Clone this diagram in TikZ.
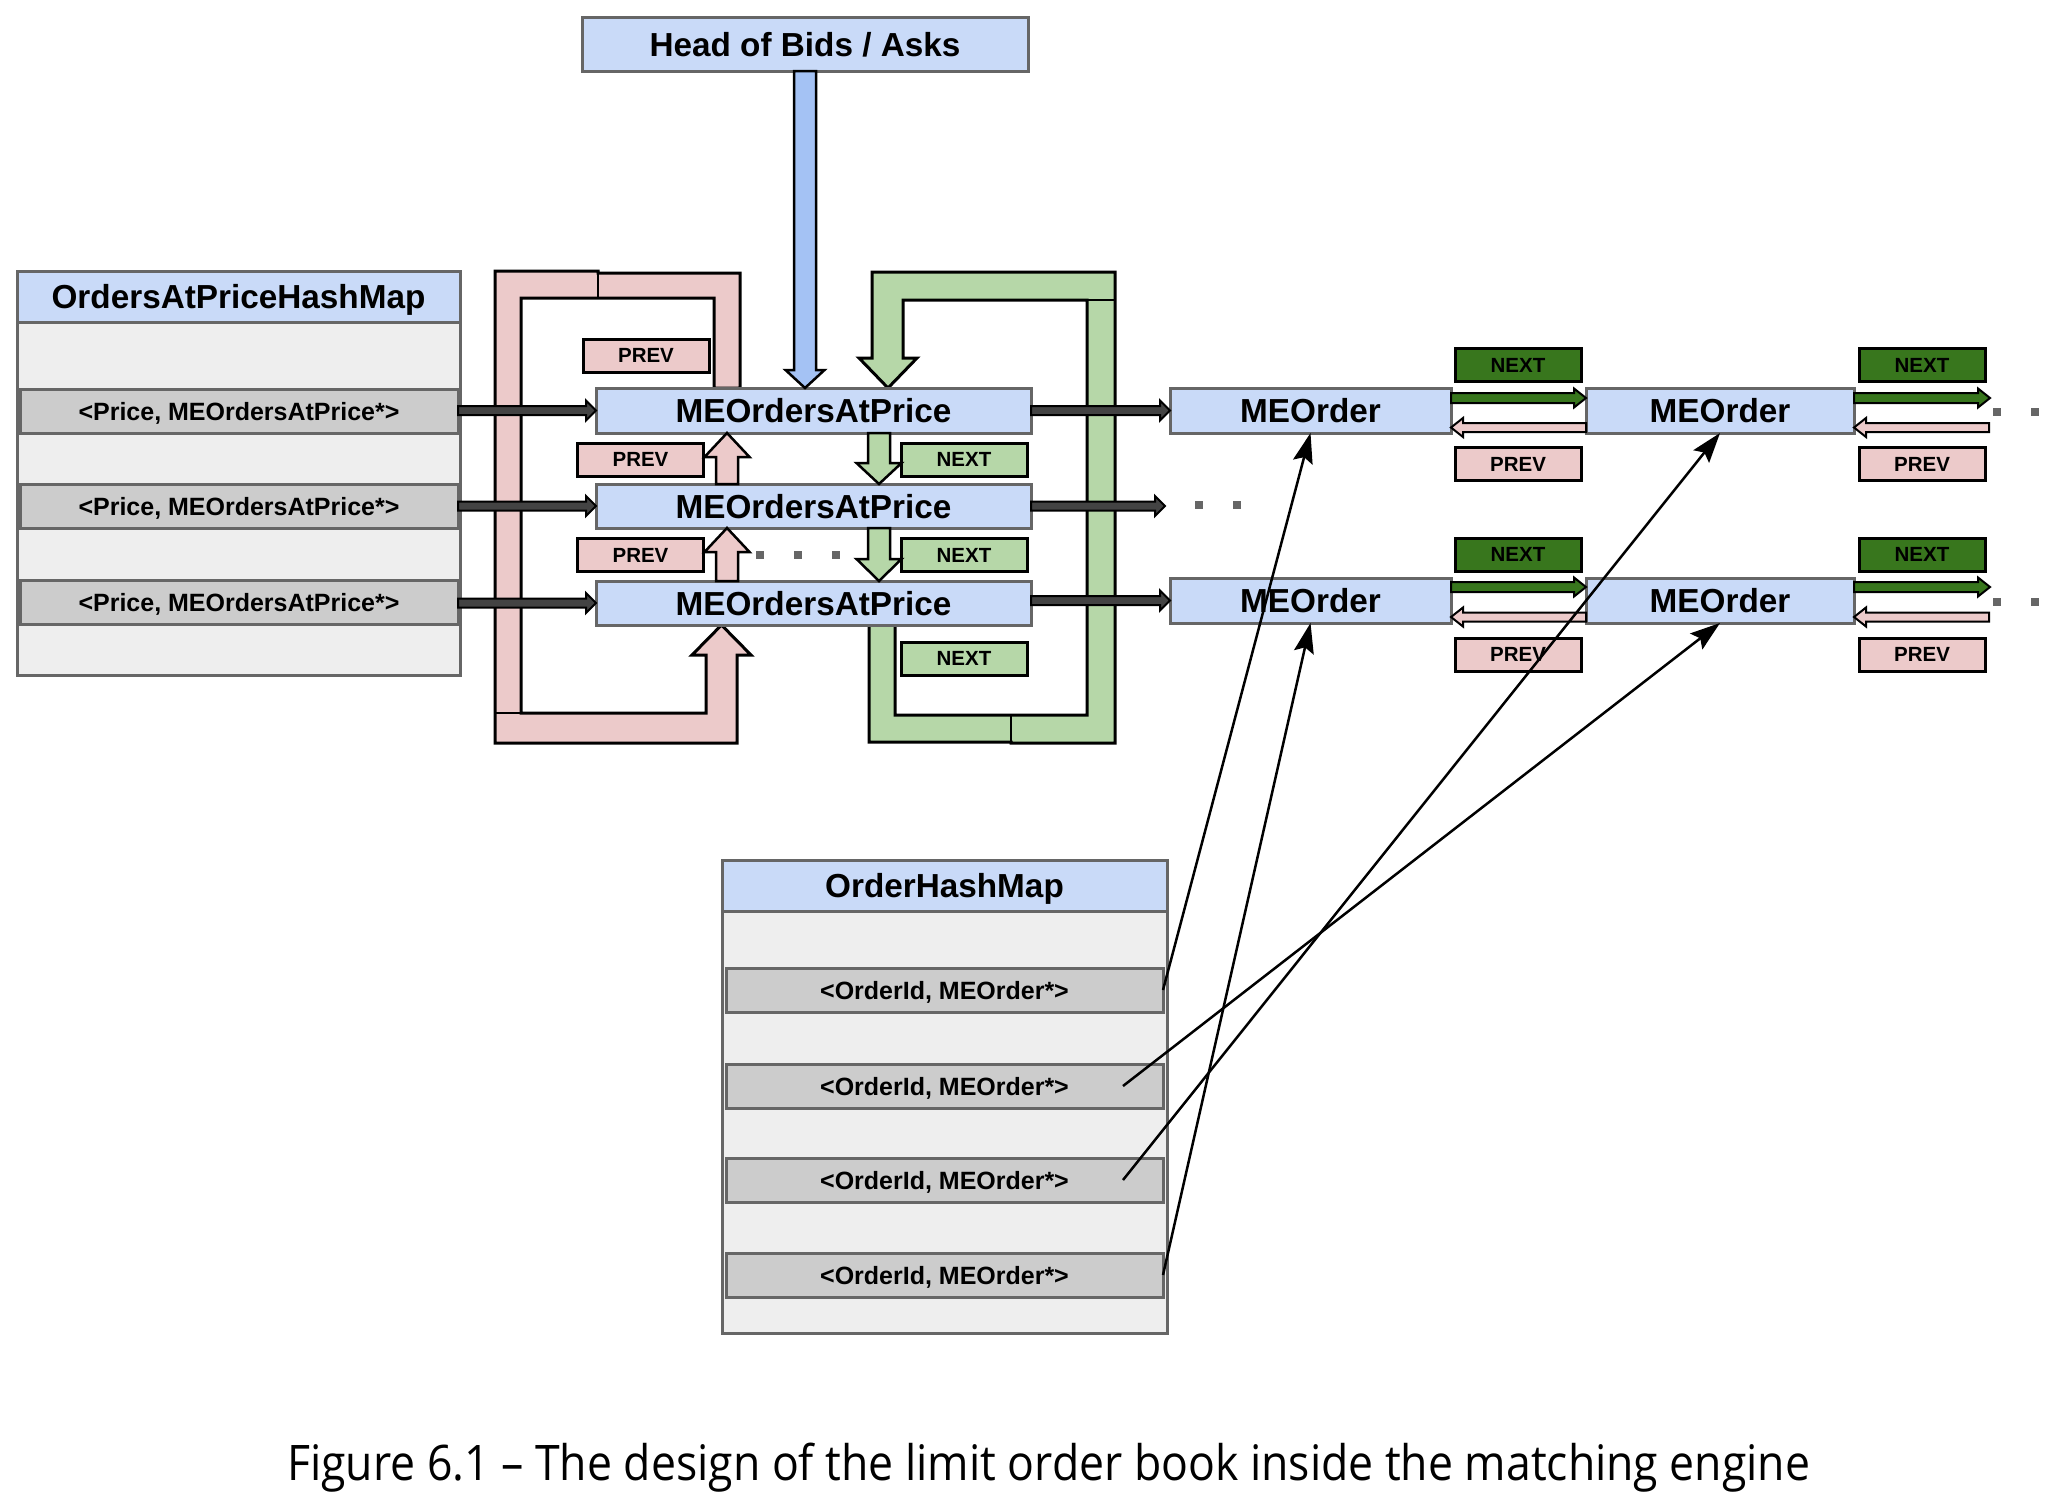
\documentclass[tikz,border=0pt]{standalone}
\usepackage{fontspec}
\setmainfont{Liberation Sans}
\newfontfamily\capfont{Open Sans}
\usetikzlibrary{calc,arrows.meta}
\definecolor{bluefill}{HTML}{C9DAF8}
\definecolor{bluearrow}{HTML}{A4C2F4}
\definecolor{edgegray}{HTML}{666666}
\definecolor{rowgray}{HTML}{CCCCCC}
\definecolor{tablegray}{HTML}{EEEEEE}
\definecolor{pinkfill}{HTML}{ECCACA}
\definecolor{greenfill}{HTML}{B6D7A8}
\definecolor{darkgreen}{HTML}{38761D}
\definecolor{shaftgray}{HTML}{434343}
\definecolor{dotgray}{HTML}{666666}
\tikzset{
  box/.style={rectangle, inner sep=0pt, outer sep=0pt, line width=3pt, text depth=0pt},
  bluebox/.style={box, draw=edgegray, fill=bluefill, text height=24pt, font=\bfseries\fontsize{33.3}{38}\selectfont},
  tablebg/.style={box, draw=edgegray, fill=tablegray},
  rowbox/.style={box, draw=edgegray, fill=rowgray, minimum height=44pt, text height=18pt, font=\bfseries\fontsize{25}{30}\selectfont},
  lbl/.style={box, draw=black, minimum width=126pt, minimum height=33pt, text height=14.8pt, font=\bfseries\fontsize{20.5}{24}\selectfont},
  prevlbl/.style={lbl, fill=pinkfill},
  nextlbl/.style={lbl, fill=greenfill},
  nextdark/.style={lbl, fill=darkgreen},
  blockblack/.style={fill=shaftgray, draw=black, line width=2pt, line join=miter},
  blockgreen/.style={fill=darkgreen, draw=black, line width=2pt, line join=miter},
  blockpink/.style={fill=pinkfill, draw=black, line width=2pt, line join=miter},
  minipink/.style={fill=pinkfill, draw=black, line width=2.5pt, line join=miter},
  minigreen/.style={fill=greenfill, draw=black, line width=2.5pt, line join=miter},
  miniblue/.style={fill=bluearrow, draw=black, line width=2.5pt, line join=miter},
  looppink/.style={fill=pinkfill, draw=black, line width=3pt, line join=miter},
  loopgreen/.style={fill=greenfill, draw=black, line width=3pt, line join=miter},
  seam/.style={draw=black, line width=2.5pt},
  ptr/.style={draw=black, line width=2.5pt, -{Stealth[length=30pt,width=20pt,inset=5pt]}},
  dotsq/.style={fill=dotgray, draw=none, minimum size=8pt, inner sep=0pt, rectangle}
}
% horizontal block arrow: style, tail, tip, half shaft, half head, signed head length
\newcommand{\harr}[6]{\filldraw[#1] let \p1=(#2), \p2=(#3) in
  (\x1,{\y2+#4}) -- ({\x2-(#6)},{\y2+#4}) -- ({\x2-(#6)},{\y2+#5}) -- (\x2,\y2)
  -- ({\x2-(#6)},{\y2-#5}) -- ({\x2-(#6)},{\y2-#4}) -- (\x1,{\y2-#4}) -- cycle;}
% vertical block arrow: style, tail, tip, half shaft, half head, signed head length (positive = up)
\newcommand{\varr}[6]{\filldraw[#1] let \p1=(#2), \p2=(#3) in
  ({\x2+#4},\y1) -- ({\x2+#4},{\y2-(#6)}) -- ({\x2+#5},{\y2-(#6)}) -- (\x2,\y2)
  -- ({\x2-#5},{\y2-(#6)}) -- ({\x2-#4},{\y2-(#6)}) -- ({\x2-#4},\y1) -- cycle;}
\begin{document}
\begin{tikzpicture}[x=1pt,y=-1pt]
\useasboundingbox[fill=white] (0,0) rectangle (2048,1492);

% ---------- OrdersAtPriceHashMap ----------
\node[tablebg, minimum width=443pt, minimum height=404pt] (oaphm) at (238.5,473) {};
\node[bluebox, minimum width=443pt, minimum height=51pt] (oaphmhead) at (238.5,296.5) {OrdersAtPriceHashMap};
\node[rowbox, minimum width=438pt] (p1) at (239,411) {<Price, MEOrdersAtPrice*>};
\node[rowbox, minimum width=438pt] (p2) at (239,506.5) {<Price, MEOrdersAtPrice*>};
\node[rowbox, minimum width=438pt] (p3) at (239,602) {<Price, MEOrdersAtPrice*>};

% ---------- Head ----------
\node[bluebox, minimum width=446pt, minimum height=54pt] (head) at (805,44) {Head of Bids / Asks};

% ---------- MEOrdersAtPrice ----------
\node[bluebox, minimum width=435pt, minimum height=45pt] (a1) at (813.5,410.5) {MEOrdersAtPrice};
\node[bluebox, minimum width=435pt, minimum height=44pt] (a2) at (813.5,506) {MEOrdersAtPrice};
\node[bluebox, minimum width=435pt, minimum height=44pt] (a3) at (813.5,603) {MEOrdersAtPrice};

% ---------- big loops ----------
\filldraw[looppink] let \p1=(a1.north), \p2=(a3.south) in
  (740pt,\y1) -- (740,273) -- (598,273) -- (598,271) -- (495,271) -- (495,743)
  -- (737,743) -- (737,655) -- (751,655) -- (721.5pt,\y2) -- (692,655) -- (706,655)
  -- (706,713) -- (521,713) -- (521,298) -- (714,298) -- (714pt,\y1) -- cycle;
\draw[seam] (598,271) -- (598,298);
\draw[seam] (495,713) -- (521,713);

\filldraw[loopgreen] let \p1=(a3.south), \p2=(a1.north) in
  (869pt,\y1) -- (869,742) -- (1011,742) -- (1011,743) -- (1115,743) -- (1115,272)
  -- (872,272) -- (872,358) -- (859,358) -- (888pt,\y2) -- (917,358) -- (903,358)
  -- (903,300) -- (1087,300) -- (1087,715) -- (895,715) -- (895pt,\y1) -- cycle;
\draw[seam] (1011,715) -- (1011,743);
\draw[seam] (1087,300) -- (1115,300);

% redraw boxes above loop ends
\node[bluebox, minimum width=435pt, minimum height=45pt] at (a1) {MEOrdersAtPrice};
\node[bluebox, minimum width=435pt, minimum height=44pt] at (a3) {MEOrdersAtPrice};

% ---------- PREV / NEXT labels (price levels) ----------
\node[prevlbl] (pt) at (646,355.5) {PREV};
\node[prevlbl] (p12) at (640.5,459.5) {PREV};
\node[prevlbl] (p23) at (640.5,555) {PREV};
\node[nextlbl] (n12) at (964,459.5) {NEXT};
\node[nextlbl] (n23) at (964,555) {NEXT};
\node[nextlbl] (nb) at (964,658.5) {NEXT};

% ---------- mini arrows between price levels ----------
\coordinate (a1in) at ($(a1.north)+(-8.5,0)$);
\coordinate (pu1) at ($(a1.south)+(-86.5,0)$);
\coordinate (pu2) at ($(a2.south)+(-86.5,0)$);
\coordinate (gd1) at ($(a2.north)+(65.5,0)$);
\coordinate (gd2) at ($(a3.north)+(65.5,0)$);
\varr{miniblue}{head.south}{a1in}{11pt}{19.5pt}{-18pt}
\varr{minipink}{a2.north}{pu1}{11pt}{22.5pt}{24pt}
\varr{minipink}{a3.north}{pu2}{11pt}{22.5pt}{24pt}
\varr{minigreen}{a1.south}{gd1}{11pt}{22.5pt}{-21pt}
\varr{minigreen}{a2.south}{gd2}{11pt}{22.5pt}{-22pt}

% dots between levels
\node[dotsq] (d1) at (760,555) {};
\node[dotsq] (d2) at (798,555) {};
\node[dotsq] (d3) at (836,555) {};

% ---------- MEOrder nodes ----------
\node[bluebox, minimum width=281pt, minimum height=45pt] (o1) at (1310.5,410.5) {MEOrder};
\node[bluebox, minimum width=268pt, minimum height=45pt] (o2) at (1720,410.5) {MEOrder};
\node[bluebox, minimum width=281pt, minimum height=45pt] (o3) at (1310.5,600.5) {MEOrder};
\node[bluebox, minimum width=268pt, minimum height=45pt] (o4) at (1720,600.5) {MEOrder};

\node[nextdark] (on1) at (1518,365) {NEXT};
\node[nextdark] (on2) at (1922,365) {NEXT};
\node[nextdark] (on3) at (1518,554.5) {NEXT};
\node[nextdark] (on4) at (1922,554.5) {NEXT};
\node[prevlbl] (op1) at (1518,464) {PREV};
\node[prevlbl] (op2) at (1922,464) {PREV};
\node[prevlbl] (op3) at (1518,654.5) {PREV};
\node[prevlbl] (op4) at (1922,654.5) {PREV};

% linked list arrows
\coordinate (o1n) at ($(o1.east)+(0,-12.5)$);
\coordinate (o2n) at ($(o2.west)+(0,-12.5)$);
\coordinate (o1p) at ($(o1.east)+(0,17)$);
\coordinate (o2p) at ($(o2.west)+(0,17)$);
\coordinate (o2nr) at ($(o2.east)+(0,-12.5)$);
\coordinate (e1n) at (1990,398);
\coordinate (o2pr) at ($(o2.east)+(0,17)$);
\coordinate (e1p) at (1989,427.5);
\harr{blockgreen}{o1n}{o2n}{5pt}{9.5pt}{12pt}
\harr{blockpink}{o2p}{o1p}{4.5pt}{9.5pt}{-12pt}
\harr{blockgreen}{o2nr}{e1n}{5pt}{9.5pt}{12pt}
\harr{blockpink}{e1p}{o2pr}{4.5pt}{9.5pt}{-12pt}

\coordinate (o3n) at ($(o3.east)+(0,-13.5)$);
\coordinate (o4n) at ($(o4.west)+(0,-13.5)$);
\coordinate (o3p) at ($(o3.east)+(0,16.5)$);
\coordinate (o4p) at ($(o4.west)+(0,16.5)$);
\coordinate (o4nr) at ($(o4.east)+(0,-13.5)$);
\coordinate (e3n) at (1990,587);
\coordinate (o4pr) at ($(o4.east)+(0,16.5)$);
\coordinate (e3p) at (1989,617);
\harr{blockgreen}{o3n}{o4n}{5pt}{9.5pt}{12pt}
\harr{blockpink}{o4p}{o3p}{4.5pt}{9.5pt}{-12pt}
\harr{blockgreen}{o4nr}{e3n}{5pt}{9.5pt}{12pt}
\harr{blockpink}{e3p}{o4pr}{4.5pt}{9.5pt}{-12pt}

\node[dotsq] (d4) at (1997,412) {};
\node[dotsq] (d5) at (2035,412) {};
\node[dotsq] (d6) at (1997,602) {};
\node[dotsq] (d7) at (2035,602) {};

% ---------- black block arrows ----------
\harr{blockblack}{p1.east}{a1.west}{4.5pt}{10pt}{10pt}
\harr{blockblack}{p2.east}{a2.west}{4.5pt}{10pt}{10pt}
\harr{blockblack}{p3.east}{a3.west}{4.5pt}{10pt}{10pt}
\coordinate (a2out) at (1165,506);
\harr{blockblack}{a1.east}{o1.west}{4.5pt}{10pt}{10pt}
\harr{blockblack}{a2.east}{a2out}{4.5pt}{10pt}{10pt}
\harr{blockblack}{a3.east}{o3.west}{4.5pt}{10pt}{10pt}
\node[dotsq] (d8) at (1199,505) {};
\node[dotsq] (d9) at (1237,505) {};

% ---------- OrderHashMap ----------
\node[tablebg, minimum width=445pt, minimum height=473pt] (ohm) at (944.5,1096.5) {};
\node[bluebox, minimum width=445pt, minimum height=51pt] (ohmhead) at (944.5,885.5) {OrderHashMap};
\node[rowbox, minimum width=437pt] (r1) at (944.5,990) {<OrderId, MEOrder*>};
\node[rowbox, minimum width=437pt] (r2) at (944.5,1086) {<OrderId, MEOrder*>};
\node[rowbox, minimum width=437pt] (r3) at (944.5,1180) {<OrderId, MEOrder*>};
\node[rowbox, minimum width=437pt] (r4) at (944.5,1275) {<OrderId, MEOrder*>};

% ---------- pointers ----------
\coordinate (r2s) at ($(r2.east)+(-40,0)$);
\coordinate (r3s) at ($(r3.east)+(-40,0)$);
\draw[ptr] (r1.east) -- (o1.south);
\draw[ptr] (r2s) -- (o4.south);
\draw[ptr] (r3s) -- (o2.south);
\draw[ptr] (r4.east) -- (o3.south);

% ---------- caption ----------
\node[anchor=base west, inner sep=0pt] (cap) at (287,1480)
  {\resizebox{1523pt}{\height}{\capfont\fontsize{49}{58}\selectfont Figure 6.1 – The design of the limit order book inside the matching engine}};
\end{tikzpicture}
\end{document}
